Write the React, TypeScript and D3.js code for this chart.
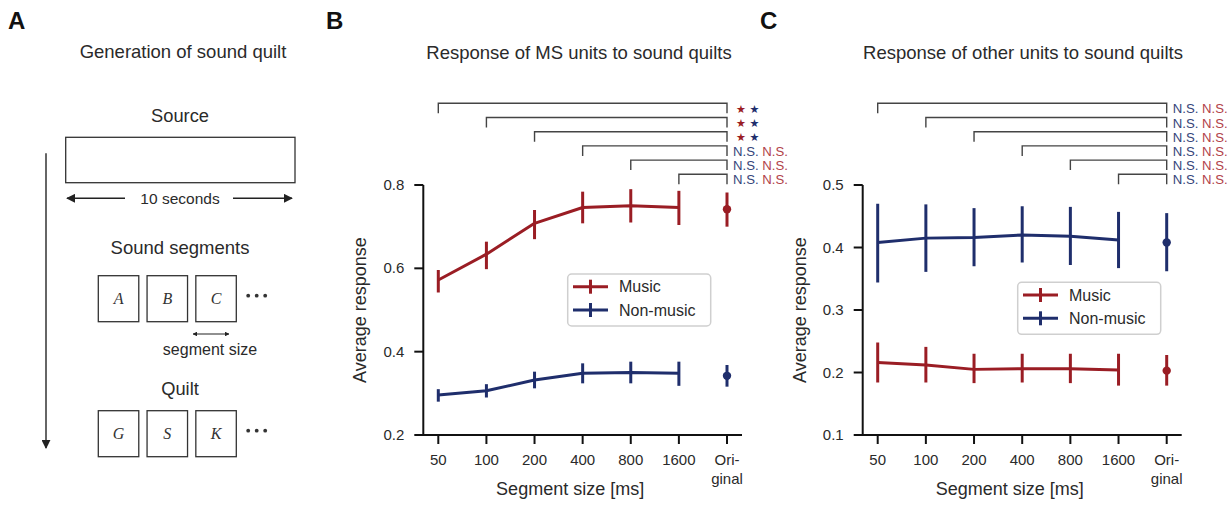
import React from 'react';
import * as d3 from 'd3';

// segment sizes, plus the unaltered original sound
const categories = ['50', '100', '200', '400', '800', '1600', 'Original'];

// Panel B: MS units
const msMusicMean = [0.572, 0.634, 0.708, 0.746, 0.750, 0.746, 0.742];
const msMusicLow = [0.542, 0.598, 0.670, 0.708, 0.710, 0.704, 0.700];
const msMusicHigh = [0.596, 0.664, 0.740, 0.784, 0.790, 0.786, 0.782];
const msOtherMean = [0.296, 0.306, 0.332, 0.348, 0.350, 0.348, 0.342];
const msOtherLow = [0.280, 0.290, 0.312, 0.324, 0.324, 0.318, 0.316];
const msOtherHigh = [0.310, 0.322, 0.352, 0.372, 0.376, 0.376, 0.368];

// Panel C: other units
const otMusicMean = [0.216, 0.212, 0.205, 0.206, 0.206, 0.204, 0.203];
const otMusicLow = [0.184, 0.184, 0.183, 0.184, 0.183, 0.179, 0.179];
const otMusicHigh = [0.248, 0.241, 0.230, 0.230, 0.230, 0.230, 0.228];
const otOtherMean = [0.408, 0.415, 0.416, 0.420, 0.418, 0.412, 0.408];
const otOtherLow = [0.344, 0.361, 0.370, 0.376, 0.372, 0.367, 0.362];
const otOtherHigh = [0.470, 0.469, 0.463, 0.466, 0.465, 0.457, 0.455];

const msTicks = [0.2, 0.4, 0.6, 0.8];
const otTicks = [0.1, 0.2, 0.3, 0.4, 0.5];

// significance of each segment size vs original: [music, non-music]
const msSig = [
  ['*', '*'], ['*', '*'], ['*', '*'], ['N.S.', 'N.S.'], ['N.S.', 'N.S.'], ['N.S.', 'N.S.'],
];
const otSig = [
  ['N.S.', 'N.S.'], ['N.S.', 'N.S.'], ['N.S.', 'N.S.'], ['N.S.', 'N.S.'], ['N.S.', 'N.S.'], ['N.S.', 'N.S.'],
];

const segLetters = ['A', 'B', 'C'];
const quiltLetters = ['G', 'S', 'K'];

const RED = '#9a1d24';
const BLUE = '#1f2e6c';
const RED_T = '#b2424a';
const BLUE_T = '#36457a';
const FONT = '"Liberation Sans", Arial, sans-serif';
const INK = '#2a2a2a';

type Series = { mean: number[]; low: number[]; high: number[]; color: string };

const Panel = ({ x0, x1, domain, ticks, series, sig, legend, title, titleX }: any) => {
  const x = d3.scalePoint<string>().domain(categories).range([x0, x1]);
  const y = d3.scaleLinear().domain(domain).range([435, 185]);
  const axisX = x0 - 15;
  const line = d3.line<number>()
    .x((_, i) => x(categories[i]) as number)
    .y(d => y(d));
  const rowY = d3.scaleLinear().domain([0, 1]).range([103.3, 117.5]);
  const last = categories[categories.length - 1];
  const xl = x(last) as number;

  return (
    <g fontFamily={FONT}>
      <text x={titleX} y={59} textAnchor="middle" fontSize={18.5} fill={INK}>{title}</text>

      {/* significance brackets */}
      {sig.map((row: string[], i: number) => {
        const yy = rowY(i);
        const xs = x(categories[i]) as number;
        const isStar = row[0] === '*';
        return (
          <g key={i}>
            <path d={`M${xs},${yy + 10}V${yy}H${xl}V${yy + 10}`} fill="none" stroke="#444" strokeWidth={1.4} />
            {isStar ? (
              <text x={xl + 9} y={yy + 9.5} fontSize={11} fontFamily="DejaVu Sans">
                <tspan fill={RED}>★</tspan>
                <tspan dx={3.5} fill={BLUE}>★</tspan>
              </text>
            ) : (
              <text x={xl + 6} y={yy + 10} fontSize={13.2}>
                <tspan fill={BLUE_T}>{row[1]}</tspan>
                <tspan fill={RED_T}> {row[0]}</tspan>
              </text>
            )}
          </g>
        );
      })}

      {/* axes */}
      <line x1={axisX} x2={axisX} y1={y(domain[1])} y2={y(domain[0])} stroke="#111" strokeWidth={2} />
      <line x1={axisX - 1} x2={xl + 15} y1={435} y2={435} stroke="#111" strokeWidth={2} />
      {ticks.map((t: number) => (
        <g key={t}>
          <line x1={axisX - 9} x2={axisX} y1={y(t)} y2={y(t)} stroke="#111" strokeWidth={2} />
          <text x={axisX - 19} y={y(t) + 5} textAnchor="end" fontSize={15} fill={INK}>{t.toFixed(1)}</text>
        </g>
      ))}
      {categories.map(c => (
        <g key={c}>
          <line x1={x(c)} x2={x(c)} y1={435} y2={444} stroke="#111" strokeWidth={2} />
          {c === 'Original' ? (
            <text x={x(c)} y={465} textAnchor="middle" fontSize={15} fill={INK}>
              <tspan x={x(c)}>Ori-</tspan>
              <tspan x={x(c)} dy={19}>ginal</tspan>
            </text>
          ) : (
            <text x={x(c)} y={465} textAnchor="middle" fontSize={15} fill={INK}>{c}</text>
          )}
        </g>
      ))}
      <text x={(axisX + xl) / 2 - 5} y={495} textAnchor="middle" fontSize={18} fill={INK}>Segment size [ms]</text>
      <text transform={`translate(${axisX - 57},310) rotate(-90)`} textAnchor="middle" fontSize={18} fill={INK}>Average response</text>

      {/* data */}
      {series.map((s: Series, k: number) => (
        <g key={k} stroke={s.color} strokeWidth={3}>
          <path d={line(s.mean.slice(0, 6)) as string} fill="none" strokeLinejoin="round" />
          {s.mean.map((_, i) => (
            <line key={i} x1={x(categories[i])} x2={x(categories[i])} y1={y(s.low[i])} y2={y(s.high[i])} />
          ))}
          <circle cx={xl} cy={y(s.mean[6])} r={4.2} fill={s.color} stroke="none" />
        </g>
      ))}

      {/* legend */}
      <rect x={legend[0]} y={legend[1]} width={143} height={52} rx={4} fill="#fff" stroke="#cfcfcf" strokeWidth={1.5} />
      {[['Music', RED], ['Non-music', BLUE]].map(([name, col], i) => {
        const ly = legend[1] + 12.7 + i * 23.3;
        const lx = legend[0] + 5.3;
        return (
          <g key={name}>
            <line x1={lx} x2={lx + 35} y1={ly} y2={ly} stroke={col} strokeWidth={3} />
            <line x1={lx + 17.5} x2={lx + 17.5} y1={ly - 7} y2={ly + 7} stroke={col} strokeWidth={3} />
            <text x={lx + 46} y={ly + 5.5} fontSize={16} fill={INK}>{name}</text>
          </g>
        );
      })}
    </g>
  );
};

const Diagram = () => {
  const box = d3.scaleBand<string>().domain(['0', '1', '2']).range([98.3, 236.3]).paddingInner(0.17);
  const dots = [-8.5, 0, 8.5];
  const row = (letters: string[], top: number) => (
    <g>
      {letters.map((l, i) => (
        <g key={l}>
          <rect x={box(String(i))} y={top} width={box.bandwidth()} height={46} fill="#fff" stroke="#333" strokeWidth={1.3} />
          <text x={(box(String(i)) as number) + box.bandwidth() / 2} y={top + 28.5} textAnchor="middle"
            fontSize={16} fontStyle="italic" fontFamily='"Liberation Serif", "Times New Roman", serif' fill="#333">{l}</text>
        </g>
      ))}
      {dots.map(d => <circle key={d} cx={256.7 + d} cy={top + 20} r={1.9} fill="#333" />)}
    </g>
  );
  return (
    <g fontFamily={FONT} fill={INK}>
      <defs>
        <marker id="ah" viewBox="0 0 10 10" refX={9} refY={5} markerWidth={6} markerHeight={6} orient="auto-start-reverse">
          <path d="M0,0L10,5L0,10Z" fill="#222" />
        </marker>
        <marker id="ahs" viewBox="0 0 10 10" refX={9} refY={5} markerWidth={4} markerHeight={4} orient="auto-start-reverse">
          <path d="M0,0L10,5L0,10Z" fill="#222" />
        </marker>
      </defs>
      <text x={183} y={58} textAnchor="middle" fontSize={18.5}>Generation of sound quilt</text>
      <text x={180} y={122} textAnchor="middle" fontSize={18.3}>Source</text>
      <rect x={65.7} y={137.3} width={229.3} height={45.4} fill="#fff" stroke="#333" strokeWidth={1.3} />
      <line x1={67} x2={125} y1={198.3} y2={198.3} stroke="#222" strokeWidth={1.5} markerStart="url(#ah)" />
      <line x1={233} x2={292} y1={198.3} y2={198.3} stroke="#222" strokeWidth={1.5} markerEnd="url(#ah)" />
      <text x={180} y={203.5} textAnchor="middle" fontSize={15.5}>10 seconds</text>
      <text x={180} y={254} textAnchor="middle" fontSize={18.5}>Sound segments</text>
      {row(segLetters, 275.7)}
      <line x1={193} x2={229} y1={334} y2={334} stroke="#222" strokeWidth={1.2} markerStart="url(#ahs)" markerEnd="url(#ahs)" />
      <text x={210} y={355} textAnchor="middle" fontSize={16}>segment size</text>
      <text x={180} y={395} textAnchor="middle" fontSize={18.3}>Quilt</text>
      {row(quiltLetters, 410.7)}
      <line x1={46} x2={46} y1={153.3} y2={448} stroke="#333" strokeWidth={1.5} markerEnd="url(#ah)" />
    </g>
  );
};

export default function App() {
  const msSeries: Series[] = [
    { mean: msMusicMean, low: msMusicLow, high: msMusicHigh, color: RED },
    { mean: msOtherMean, low: msOtherLow, high: msOtherHigh, color: BLUE },
  ];
  const otSeries: Series[] = [
    { mean: otMusicMean, low: otMusicLow, high: otMusicHigh, color: RED },
    { mean: otOtherMean, low: otOtherLow, high: otOtherHigh, color: BLUE },
  ];
  return (
    <svg width={1230} height={505} style={{ position: 'absolute', left: 0, top: 0, background: '#fff' }}>
      <rect width={1230} height={505} fill="#fff" />
      <g fontFamily={FONT} fontWeight="bold" fontSize={24} fill="#111">
        <text x={8} y={29}>A</text>
        <text x={326} y={29}>B</text>
        <text x={760} y={29}>C</text>
      </g>
      <Diagram />
      <Panel x0={438.3} x1={727} domain={[0.2, 0.8]} ticks={msTicks} series={msSeries} sig={msSig}
        legend={[567.7, 274]} title="Response of MS units to sound quilts" titleX={579} />
      <Panel x0={877.7} x1={1166.7} domain={[0.1, 0.5]} ticks={otTicks} series={otSeries} sig={otSig}
        legend={[1017.7, 282.3]} title="Response of other units to sound quilts" titleX={1023} />
    </svg>
  );
}
